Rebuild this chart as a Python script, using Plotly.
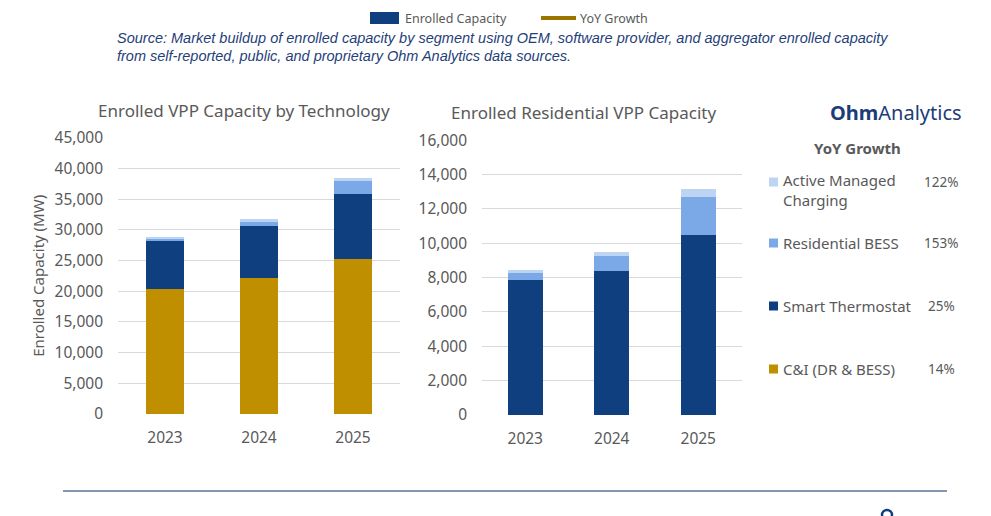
import plotly.graph_objects as go

years = ["2023", "2024", "2025"]
ci_dr_bess = [20400, 22200, 25300]
smart_thermostat = [7850, 8400, 10500]
residential_bess = [430, 880, 2200]
active_managed = [150, 200, 450]

segments = ["Active Managed<br>Charging", "Residential BESS", "Smart Thermostat", "C&I (DR & BESS)"]
yoy_growth = ["122%", "153%", "25%", "14%"]

gold = "#BF8F00"
navy = "#103F80"
bess_blue = "#7BA9E8"
amc_blue = "#BDD5F3"
grey = "#595959"
font = "Noto Sans"

W, H = 991, 516
OFF = 8  # page body margin


def px(x):
    return (x - OFF) / W


def py(y):
    return 1 - (y - OFF) / H


fig = go.Figure()

# left chart: all technologies
for name, vals, col in [("C&I (DR & BESS)", ci_dr_bess, gold),
                        ("Smart Thermostat", smart_thermostat, navy),
                        ("Residential BESS", residential_bess, bess_blue),
                        ("Active Managed Charging", active_managed, amc_blue)]:
    fig.add_trace(go.Bar(name=name, x=years, y=vals, marker_color=col,
                         marker_line_width=0, xaxis="x", yaxis="y", showlegend=False))

# right chart: residential only
for name, vals, col in [("Smart Thermostat", smart_thermostat, navy),
                        ("Residential BESS", residential_bess, bess_blue),
                        ("Active Managed Charging", active_managed, amc_blue)]:
    fig.add_trace(go.Bar(name=name, x=years, y=vals, marker_color=col,
                         marker_line_width=0, xaxis="x2", yaxis="y2", showlegend=False))

axis_common = dict(showline=False, zeroline=False, automargin=False,
                   tickfont=dict(family=font, size=15.5, color=grey))

fig.update_layout(
    width=W, height=H,
    margin=dict(l=0, r=0, t=0, b=0),
    paper_bgcolor="white", plot_bgcolor="white",
    barmode="stack", bargap=0.6,
    font=dict(family=font, color=grey),
    xaxis=dict(domain=[px(118), px(400)], anchor="y", showgrid=False, ticklabelstandoff=12, **axis_common),
    yaxis=dict(domain=[py(414), py(137.7)], anchor="x", range=[0, 45000], dtick=5000,
               tickformat=",", gridcolor="#D9D9D9", ticklabelstandoff=14,
               title=dict(text="Enrolled Capacity (MW)", font=dict(family=font, size=15, color=grey), standoff=6),
               **axis_common),
    xaxis2=dict(domain=[px(482), px(741.5)], anchor="y2", showgrid=False, ticklabelstandoff=12, **axis_common),
    yaxis2=dict(domain=[py(415), py(140.3)], anchor="x2", range=[0, 16000], dtick=2000,
                tickformat=",", gridcolor="#D9D9D9", ticklabelstandoff=14, **axis_common),
)

ann = []
ann.append(dict(text="Enrolled VPP Capacity by Technology", x=px(244), y=py(110.5),
                font=dict(family=font, size=17, color=grey)))
ann.append(dict(text="Enrolled Residential VPP Capacity", x=px(583), y=py(112.5),
                font=dict(family=font, size=17, color=grey)))

# source note
src_font = dict(family="Liberation Sans, Arial, sans-serif", size=14.5, color="#1F3F7A")
ann.append(dict(text="<i>Source: Market buildup of enrolled capacity by segment using OEM, software provider, and aggregator enrolled capacity</i>",
                x=px(115), y=py(38), xanchor="left", font=src_font))
ann.append(dict(text="<i>from self-reported, public, and proprietary Ohm Analytics data sources.</i>",
                x=px(115), y=py(56), xanchor="left", font=src_font))

# top legend
ann.append(dict(text="Enrolled Capacity", x=px(403), y=py(18), xanchor="left", font=dict(family=font, size=12.5, color=grey)))
ann.append(dict(text="YoY Growth", x=px(578), y=py(18), xanchor="left", font=dict(family=font, size=12.5, color=grey)))

# logo
ann.append(dict(text="<b>Ohm</b>Analytics", x=px(896), y=py(112), font=dict(family=font, size=20, color="#1B3C78")))
ann.append(dict(text="<b>YoY Growth</b>", x=px(857), y=py(148), font=dict(family=font, size=15, color=grey)))

seg_y = [190, 243, 306, 369]
pct_y = [182, 243, 306, 369]
seg_cols = [amc_blue, bess_blue, navy, gold]
shapes = []
for seg, pct, sy, pyy, col in zip(segments, yoy_growth, seg_y, pct_y, seg_cols):
    ann.append(dict(text=seg, x=px(781), y=py(sy), xanchor="left", align="left",
                    font=dict(family=font, size=15, color=grey)))
    ann.append(dict(text=pct, x=px(941), y=py(pyy), font=dict(family=font, size=13.5, color=grey)))
    top = pyy - 4.5 if seg.startswith("Active") else sy - 4.5
    shapes.append(dict(type="rect", xref="paper", yref="paper", x0=px(769), x1=px(778),
                       y0=py(top + 9), y1=py(top), fillcolor=col, line_width=0))

for a in ann:
    a.setdefault("xref", "paper")
    a.setdefault("yref", "paper")
    a.setdefault("showarrow", False)
    a.setdefault("xanchor", "center")
    a.setdefault("yanchor", "middle")

shapes.append(dict(type="rect", xref="paper", yref="paper", x0=px(370), x1=px(399), y0=py(24), y1=py(12),
                   fillcolor=navy, line_width=0))
shapes.append(dict(type="line", xref="paper", yref="paper", x0=px(541), x1=px(576), y0=py(18), y1=py(18),
                   line=dict(color="#9C7500", width=4)))
shapes.append(dict(type="line", xref="paper", yref="paper", x0=px(63), x1=px(947), y0=py(491), y1=py(491),
                   line=dict(color="#8497B0", width=2)))
# bit of the footer logo peeking in at the bottom edge
shapes.append(dict(type="circle", xref="paper", yref="paper", x0=px(882), x1=px(892), y0=py(520), y1=py(510),
                   line=dict(color=navy, width=2.5)))

fig.update_layout(annotations=ann, shapes=shapes)

fig.write_html("out.html")
